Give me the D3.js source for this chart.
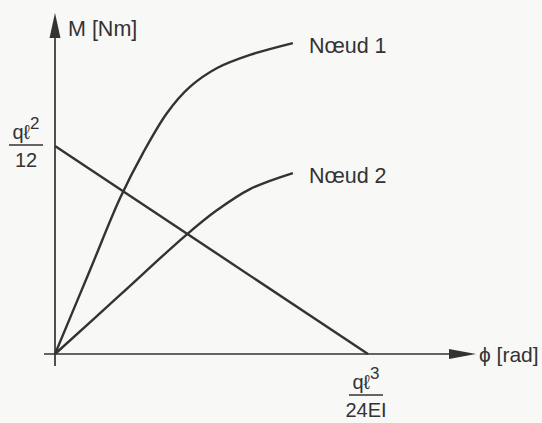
<!DOCTYPE html>
<html>
<head>
<meta charset="utf-8">
<script src="https://cdn.jsdelivr.net/npm/d3@7"></script>
<style>
  body { margin: 0; background: #f8f8f6; }
  svg { display: block; }
  text { font-family: "Liberation Sans", Arial, sans-serif; fill: #333; }
  .curve { fill: none; stroke: #333; stroke-width: 2.4; }
  .axis { stroke: #333; stroke-width: 1.7; }
</style>
</head>
<body>
<script>
// phi in units of ql^3/24EI, M in units of ql^2/12
var node1Phi = [0, 0.112, 0.208, 0.281, 0.358, 0.431, 0.518, 0.623, 0.760];
var node1M   = [0, 0.404, 0.75, 0.966, 1.159, 1.284, 1.375, 1.438, 1.495];

var node2Phi = [0, 0.208, 0.415, 0.518, 0.623, 0.760];
var node2M   = [0, 0.284, 0.567, 0.692, 0.793, 0.870];

// straight line between the two marked values
var linePhi = [0, 1];
var lineM   = [1, 0];

var curveNames = ["Nœud 1", "Nœud 2"];
var yLabel = "M [Nm]";
var xLabel = "ϕ [rad]";

var width = 542, height = 423;

var svg = d3.select("body").append("svg")
    .attr("width", width)
    .attr("height", height);

// Scales
var x = d3.scaleLinear().domain([0, 1]).range([55, 368]);
var y = d3.scaleLinear().domain([0, 1]).range([354, 146]);

// Axes with arrow heads
svg.append("line").attr("class", "axis")
    .attr("x1", x(0)).attr("y1", 366)
    .attr("x2", x(0)).attr("y2", 30);
svg.append("path")
    .attr("d", "M" + x(0) + ",13 L" + (x(0) + 5.5) + ",38 L" + (x(0) - 5.5) + ",38 Z")
    .attr("fill", "#333");

svg.append("line").attr("class", "axis")
    .attr("x1", 44).attr("y1", y(0))
    .attr("x2", 460).attr("y2", y(0));
svg.append("path")
    .attr("d", "M476," + y(0) + " L449," + (y(0) - 5) + " L449," + (y(0) + 5) + " Z")
    .attr("fill", "#333");

svg.append("text")
    .attr("x", 68).attr("y", 36)
    .style("font-size", "21.5px")
    .text(yLabel);

svg.append("text")
    .attr("x", 479).attr("y", y(0) + 8)
    .style("font-size", "21px")
    .text(xLabel);

// Curves
var line = d3.line()
    .x(function(d) { return x(d[0]); })
    .y(function(d) { return y(d[1]); })
    .curve(d3.curveCatmullRom.alpha(0.5));

var series = [
  d3.zip(node1Phi, node1M),
  d3.zip(node2Phi, node2M)
];

series.forEach(function(s, i) {
  svg.append("path")
      .datum(s)
      .attr("class", "curve")
      .attr("d", line);

  var last = s[s.length - 1];
  svg.append("text")
      .attr("x", x(last[0]) + 16)
      .attr("y", y(last[1]) + 10)
      .style("font-size", "21.5px")
      .text(curveNames[i]);
});

svg.append("path")
    .datum(d3.zip(linePhi, lineM))
    .attr("class", "curve")
    .attr("d", d3.line().x(function(d) { return x(d[0]); }).y(function(d) { return y(d[1]); }));

// Fraction labels
function fraction(cx, lineY, exp, den) {
  var top = svg.append("text")
      .attr("x", cx).attr("y", lineY - 6)
      .attr("text-anchor", "middle")
      .style("font-size", "20px");
  top.append("tspan").text("qℓ");
  top.append("tspan").attr("dy", -10).style("font-size", "17px").text(exp);

  svg.append("line")
      .attr("x1", cx - 17).attr("x2", cx + 17)
      .attr("y1", lineY).attr("y2", lineY)
      .attr("stroke", "#333").attr("stroke-width", 1.5);

  svg.append("text")
      .attr("x", cx).attr("y", lineY + 22)
      .attr("text-anchor", "middle")
      .style("font-size", "20px")
      .text(den);
}

fraction(26, 145, "2", "12");
fraction(x(1) - 2, 395, "3", "24EI");
</script>
</body>
</html>
